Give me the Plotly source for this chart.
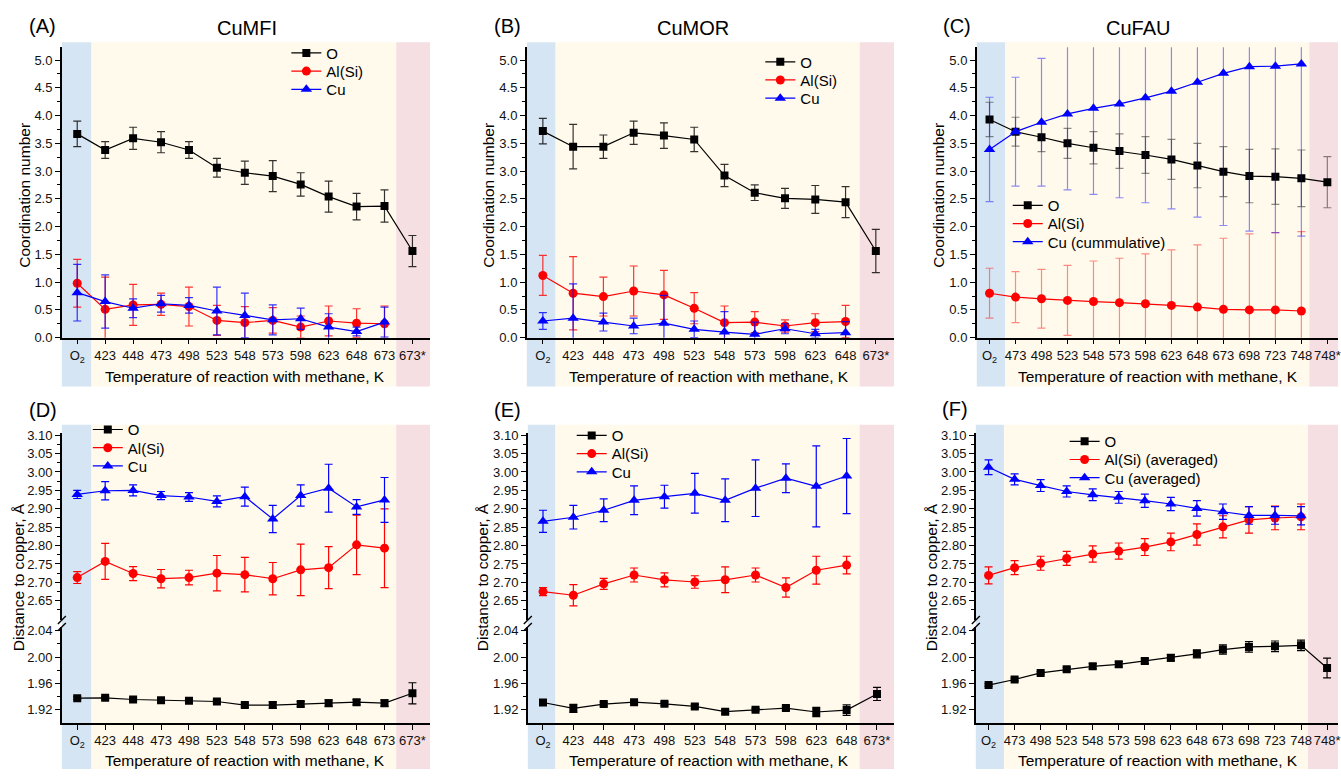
import plotly.graph_objects as go

W, H = 1341, 777

# ---------------- data ----------------
cats_mfi = ["O<sub>2</sub>", "423", "448", "473", "498", "523", "548", "573", "598", "623", "648", "673", "673*"]
cats_mor = ["O<sub>2</sub>", "423", "448", "473", "498", "523", "548", "573", "598", "623", "648", "673*"]
cats_fau = ["O<sub>2</sub>", "473", "498", "523", "548", "573", "598", "623", "648", "673", "698", "723", "748", "748*"]

names_mfi = ["O", "Al(Si)", "Cu"]
names_mor = ["O", "Al(Si)", "Cu"]
names_fau_cn = ["O", "Al(Si)", "Cu (cummulative)"]
names_fau_d = ["O", "Al(Si) (averaged)", "Cu (averaged)"]

# (A) CuMFI coordination numbers
cn_mfi_O = [3.67, 3.38, 3.59, 3.52, 3.38, 3.06, 2.97, 2.91, 2.76, 2.54, 2.36, 2.37, 1.56]
cn_mfi_O_err = [0.23, 0.15, 0.20, 0.19, 0.15, 0.17, 0.21, 0.28, 0.21, 0.28, 0.24, 0.29, 0.28]
cn_mfi_Al = [0.98, 0.51, 0.59, 0.60, 0.56, 0.31, 0.27, 0.31, 0.19, 0.30, 0.26, 0.25, None]
cn_mfi_Al_err = [0.43, 0.58, 0.37, 0.20, 0.35, 0.27, 0.29, 0.23, 0.20, 0.27, 0.26, 0.32, None]
cn_mfi_Cu = [0.81, 0.65, 0.53, 0.61, 0.58, 0.48, 0.40, 0.32, 0.34, 0.19, 0.11, 0.28, None]
cn_mfi_Cu_err = [0.51, 0.48, 0.17, 0.15, 0.14, 0.43, 0.40, 0.27, 0.19, 0.24, 0.08, 0.27, None]

# (B) CuMOR coordination numbers
cn_mor_O = [3.72, 3.44, 3.44, 3.69, 3.64, 3.57, 2.92, 2.61, 2.51, 2.49, 2.44, 1.56]
cn_mor_O_err = [0.23, 0.40, 0.21, 0.21, 0.23, 0.22, 0.20, 0.14, 0.18, 0.25, 0.28, 0.39]
cn_mor_Al = [1.12, 0.80, 0.74, 0.84, 0.77, 0.53, 0.27, 0.28, 0.21, 0.27, 0.29, None]
cn_mor_Al_err = [0.36, 0.66, 0.35, 0.45, 0.44, 0.28, 0.30, 0.19, 0.11, 0.16, 0.29, None]
cn_mor_Cu = [0.30, 0.35, 0.28, 0.21, 0.26, 0.15, 0.10, 0.06, 0.16, 0.07, 0.09, None]
cn_mor_Cu_err = [0.15, 0.62, 0.16, 0.14, 0.50, 0.15, 0.37, 0.22, 0.09, 0.08, 0.20, None]

# (C) CuFAU coordination numbers
cn_fau_O = [3.93, 3.71, 3.61, 3.50, 3.42, 3.36, 3.29, 3.21, 3.10, 2.99, 2.91, 2.90, 2.87, 2.80]
cn_fau_O_err = [0.31, 0.26, 0.26, 0.27, 0.29, 0.31, 0.33, 0.36, 0.40, 0.45, 0.48, 0.50, 0.51, 0.46]
cn_fau_Al = [0.80, 0.73, 0.70, 0.67, 0.65, 0.63, 0.61, 0.58, 0.55, 0.51, 0.50, 0.50, 0.48, None]
cn_fau_Al_err = [0.45, 0.46, 0.53, 0.63, 0.73, 0.80, 0.90, 1.00, 1.12, 1.28, 1.37, 1.39, 1.43, None]
cn_fau_Cu = [3.39, 3.71, 3.88, 4.03, 4.13, 4.21, 4.32, 4.44, 4.60, 4.76, 4.88, 4.89, 4.93, None]
cn_fau_Cu_err = [0.94, 0.98, 1.15, 1.37, 1.55, 1.69, 1.89, 2.12, 2.43, 2.74, 2.96, 3.00, 3.10, None]

# (D) CuMFI distances to copper, Å
d_mfi_O = [1.9375, 1.938, 1.9355, 1.9345, 1.9335, 1.9325, 1.927, 1.927, 1.9285, 1.930, 1.9315, 1.930, 1.945]
d_mfi_O_err = [0.002, 0.002, 0.002, 0.002, 0.002, 0.002, 0.003, 0.005, 0.004, 0.005, 0.004, 0.005, 0.016]
d_mfi_Al = [2.713, 2.757, 2.724, 2.710, 2.713, 2.725, 2.721, 2.710, 2.734, 2.740, 2.802, 2.793, None]
d_mfi_Al_err = [0.016, 0.049, 0.019, 0.025, 0.020, 0.048, 0.047, 0.044, 0.070, 0.057, 0.081, 0.107, None]
d_mfi_Cu = [2.939, 2.949, 2.950, 2.936, 2.932, 2.920, 2.933, 2.872, 2.936, 2.956, 2.905, 2.924, None]
d_mfi_Cu_err = [0.011, 0.025, 0.015, 0.011, 0.012, 0.015, 0.026, 0.037, 0.029, 0.065, 0.020, 0.061, None]

# (E) CuMOR distances to copper, Å
d_mor_O = [1.931, 1.922, 1.9285, 1.9315, 1.929, 1.925, 1.917, 1.920, 1.9225, 1.9165, 1.9195, 1.944]
d_mor_O_err = [0.002, 0.006, 0.003, 0.002, 0.003, 0.003, 0.003, 0.002, 0.003, 0.007, 0.008, 0.010]
d_mor_Al = [2.675, 2.665, 2.696, 2.720, 2.707, 2.701, 2.707, 2.720, 2.686, 2.733, 2.747, None]
d_mor_Al_err = [0.011, 0.029, 0.015, 0.019, 0.019, 0.017, 0.035, 0.019, 0.026, 0.038, 0.024, None]
d_mor_Cu = [2.866, 2.877, 2.896, 2.923, 2.933, 2.942, 2.923, 2.956, 2.983, 2.961, 2.989, None]
d_mor_Cu_err = [0.030, 0.032, 0.031, 0.039, 0.031, 0.054, 0.058, 0.077, 0.039, 0.110, 0.102, None]

# (F) CuFAU distances to copper, Å
d_fau_O = [1.9575, 1.966, 1.976, 1.9815, 1.986, 1.989, 1.994, 1.999, 2.005, 2.0115, 2.0155, 2.0165, 2.018, 1.9835]
d_fau_O_err = [0.002, 0.002, 0.002, 0.003, 0.004, 0.004, 0.004, 0.005, 0.006, 0.007, 0.008, 0.008, 0.008, 0.015]
d_fau_Al = [2.719, 2.740, 2.752, 2.765, 2.777, 2.785, 2.796, 2.810, 2.830, 2.851, 2.870, 2.875, 2.878, None]
d_fau_Al_err = [0.023, 0.019, 0.019, 0.019, 0.022, 0.022, 0.023, 0.024, 0.029, 0.030, 0.036, 0.032, 0.035, None]
d_fau_Cu = [3.013, 2.980, 2.963, 2.947, 2.938, 2.931, 2.922, 2.913, 2.901, 2.892, 2.882, 2.882, 2.881, None]
d_fau_Cu_err = [0.020, 0.015, 0.016, 0.015, 0.016, 0.016, 0.018, 0.018, 0.021, 0.021, 0.024, 0.024, 0.025, None]

cn_ticks = [0.0, 0.5, 1.0, 1.5, 2.0, 2.5, 3.0, 3.5, 4.0, 4.5, 5.0]
d_hi_ticks = [2.65, 2.70, 2.75, 2.80, 2.85, 2.90, 2.95, 3.00, 3.05, 3.10]
d_lo_ticks = [1.92, 1.96, 2.00, 2.04]

panel_letters = ["(A)", "(B)", "(C)", "(D)", "(E)", "(F)"]
panel_titles = ["CuMFI", "CuMOR", "CuFAU"]
x_title = "Temperature of reaction with methane, K"
cn_title = "Coordination number"
d_title = "Distance to copper, Å"

# ---------------- styling / geometry ----------------
FONT = "Liberation Sans, Arial, sans-serif"
TICKFONT = "Liberation Sans Narrow, Arial Narrow, Liberation Sans, sans-serif"
BLACK, RED, BLUE = "#000000", "#ff0000", "#0000ff"
SH_BLUE, SH_CREAM, SH_PINK = "#d6e5f3", "#fffaec", "#f6dfe2"


def fx(p):
    return p / W


def fy(p):
    return 1 - p / H


fig = go.Figure()

# geometry per column: x domain px, x range, blue end, cream end
cols = [
    dict(dom=(62, 431), rng=(-0.55, 12.63), b=0.51, c=11.42),
    dict(dom=(528, 896), rng=(-0.53, 11.6), b=0.42, c=10.47),
    dict(dom=(979, 1341), rng=(-0.49, 13.41), b=0.60, c=12.31),
    dict(dom=(62, 431), rng=(-0.55, 12.63), b=0.51, c=11.42),
    dict(dom=(529, 896), rng=(-0.5, 11.56), b=0.41, c=10.43),
    dict(dom=(978, 1341), rng=(-0.49, 13.42), b=0.59, c=12.27),
]

panels = [
    dict(cats=cats_mfi, names=names_mfi, O=(cn_mfi_O, cn_mfi_O_err), Al=(cn_mfi_Al, cn_mfi_Al_err), Cu=(cn_mfi_Cu, cn_mfi_Cu_err)),
    dict(cats=cats_mor, names=names_mor, O=(cn_mor_O, cn_mor_O_err), Al=(cn_mor_Al, cn_mor_Al_err), Cu=(cn_mor_Cu, cn_mor_Cu_err)),
    dict(cats=cats_fau, names=names_fau_cn, O=(cn_fau_O, cn_fau_O_err), Al=(cn_fau_Al, cn_fau_Al_err), Cu=(cn_fau_Cu, cn_fau_Cu_err)),
    dict(cats=cats_mfi, names=names_mfi, O=(d_mfi_O, d_mfi_O_err), Al=(d_mfi_Al, d_mfi_Al_err), Cu=(d_mfi_Cu, d_mfi_Cu_err)),
    dict(cats=cats_mor, names=names_mor, O=(d_mor_O, d_mor_O_err), Al=(d_mor_Al, d_mor_Al_err), Cu=(d_mor_Cu, d_mor_Cu_err)),
    dict(cats=cats_fau, names=names_fau_d, O=(d_fau_O, d_fau_O_err), Al=(d_fau_Al, d_fau_Al_err), Cu=(d_fau_Cu, d_fau_Cu_err)),
]

err_alpha = [0.8, 0.8, 0.45, 1.0, 1.0, 1.0]
# legend block: left edge px, centre of first row px
legend_pos = [(287, 49), (762, 58), (1010, 204), (88, 432), (573, 438), (1067, 444)]
LEG_STEP = 18.5


def rgba(hexc, a):
    h = hexc.lstrip("#")
    r, g, b = int(h[0:2], 16), int(h[2:4], 16), int(h[4:6], 16)
    return f"rgba({r},{g},{b},{a})"


axis_common = dict(showline=True, linecolor="black", linewidth=1.6, ticks="outside",
                   ticklen=5, tickwidth=1.3, tickcolor="black", showgrid=False, zeroline=False,
                   tickfont=dict(family=TICKFONT, size=13, color="#111"))

layout = {}
shapes = []
annotations = []
leg_count = 0

for i, (col, pan) in enumerate(zip(cols, panels)):
    n = i + 1
    xa = "x" if n == 1 else f"x{n}"
    xkey = "xaxis" if n == 1 else f"xaxis{n}"
    top = i < 3
    if top:
        ya_main = "y" if n == 1 else f"y{n}"
        ya_O = ya_main
        ya_lo = None
    else:
        ya_main = f"y{n}"
        ya_lo = f"y{n + 3}"
        ya_O = ya_lo

    # x axis
    layout[xkey] = dict(axis_common, domain=[fx(col["dom"][0]), fx(col["dom"][1])],
                        type="category", categoryorder="array", categoryarray=pan["cats"],
                        range=list(col["rng"]), anchor=(ya_main if top else ya_lo),
                        tickangle=0, tickmode="array", tickvals=pan["cats"], ticktext=pan["cats"])
    # y axes
    if top:
        ykey = "yaxis" if n == 1 else f"yaxis{n}"
        layout[ykey] = dict(axis_common, domain=[fy(338.3), fy(43)], range=[0, 5.23], anchor=xa,
                            tickmode="array", tickvals=cn_ticks, ticktext=[f"{v:.1f}" for v in cn_ticks],
                            minor=dict(ticks="outside", ticklen=3, tickwidth=1.2, tickcolor="black",
                                       tickmode="linear", tick0=0.25, dtick=0.5, showgrid=False))
    else:
        layout[f"yaxis{n}"] = dict(axis_common, domain=[fy(625), fy(435)], range=[2.599, 3.1067], anchor=xa,
                                   tickmode="array", tickvals=d_hi_ticks, ticktext=[f"{v:.2f}" for v in d_hi_ticks],
                                   minor=dict(ticks="outside", ticklen=3, tickwidth=1.2, tickcolor="black",
                                              tickmode="linear", tick0=2.625, dtick=0.05, showgrid=False))
        layout[f"yaxis{n + 3}"] = dict(axis_common, domain=[fy(730), fy(633)], range=[1.9001, 2.0452], anchor=xa,
                                       tickmode="array", tickvals=d_lo_ticks, ticktext=[f"{v:.2f}" for v in d_lo_ticks],
                                       minor=dict(ticks="outside", ticklen=3, tickwidth=1.2, tickcolor="black",
                                                  tickmode="linear", tick0=1.90, dtick=0.04, showgrid=False))
        # axis break marks
        ax_x = col["dom"][0]
        for yb in (629.5, 636.5):
            shapes.append(dict(type="line", xref="paper", yref="paper",
                               x0=fx(ax_x - 4), y0=fy(yb), x1=fx(ax_x + 4), y1=fy(yb - 8),
                               line=dict(color="black", width=1.4), layer="above"))

    # background shading
    y_top_px, y_bot_px = (38, 388) if top else (427, 777)
    for (a, b, c) in [(col["rng"][0] - 1, col["b"], SH_BLUE), (col["b"], col["c"], SH_CREAM),
                      (col["c"], col["rng"][1] + 1, SH_PINK)]:
        shapes.append(dict(type="rect", xref=xa, yref="paper", x0=a, x1=b, y0=fy(y_bot_px), y1=fy(y_top_px),
                           fillcolor=c, line=dict(width=0), layer="below"))

    # traces (each legend row is its own legend block so the row spacing matches)
    ea = err_alpha[i]
    lx, ly = legend_pos[i]
    specs = [("O", BLACK, "square", 8, ya_O), ("Al", RED, "circle", 9, ya_main), ("Cu", BLUE, "triangle-up", 10, ya_main)]
    for k, (key, color, sym, ms, ya) in enumerate(specs):
        vals, errs = pan[key]
        leg_count += 1
        leg = "legend" if leg_count == 1 else f"legend{leg_count}"
        fig.add_trace(go.Scatter(
            x=pan["cats"], y=vals, name=pan["names"][k], mode="lines+markers",
            line=dict(color=color, width=1.2),
            marker=dict(symbol=sym, size=ms, color=color),
            error_y=dict(type="data", array=errs, visible=True, color=rgba(color, ea), thickness=1.2, width=4),
            xaxis=xa, yaxis=ya, legend=leg, connectgaps=False))
        layout[leg] = dict(x=fx(lx), y=fy(ly + k * LEG_STEP), xanchor="left", yanchor="middle",
                           bgcolor="rgba(0,0,0,0)", borderwidth=0,
                           font=dict(family=FONT, size=15, color="black"), itemwidth=30)

# titles and labels (pixel positions)
letter_pos = [(43, 21), (509, 21), (959, 21), (43, 412), (509, 412), (957, 411)]
for t, (px, py) in zip(panel_letters, letter_pos):
    annotations.append(dict(text=t, x=fx(px), y=fy(py), xref="paper", yref="paper", showarrow=False,
                            xanchor="center", yanchor="middle", font=dict(family=FONT, size=20, color="black")))
title_pos = [(248, 23), (695, 23), (1141, 23)]
for t, (px, py) in zip(panel_titles, title_pos):
    annotations.append(dict(text=t, x=fx(px), y=fy(py), xref="paper", yref="paper", showarrow=False,
                            xanchor="center", yanchor="middle", font=dict(family=FONT, size=20, color="black")))
xt_pos = [(246, 378), (711, 378), (1161, 378), (246, 768), (711, 768), (1161, 768)]
for (px, py) in xt_pos:
    annotations.append(dict(text=x_title, x=fx(px), y=fy(py), xref="paper", yref="paper", showarrow=False,
                            xanchor="center", yanchor="middle", font=dict(family=FONT, size=15.5, color="black")))
yt_pos = [(25, 193, cn_title), (490, 193, cn_title), (941, 193, cn_title),
          (18, 582, d_title), (483, 582, d_title), (933, 582, d_title)]
for (px, py, t) in yt_pos:
    annotations.append(dict(text=t, x=fx(px), y=fy(py), xref="paper", yref="paper", showarrow=False,
                            textangle=-90, xanchor="center", yanchor="middle",
                            font=dict(family=FONT, size=15.5, color="black")))

fig.update_layout(width=W, height=H, autosize=False, margin=dict(l=0, r=0, t=0, b=0),
                  paper_bgcolor="white", plot_bgcolor="rgba(0,0,0,0)", showlegend=True,
                  shapes=shapes, annotations=annotations, font=dict(family=FONT, color="black"),
                  **layout)

fig.write_html("out.html", config={"displayModeBar": False},
               post_script="document.body.style.margin='0';document.body.style.padding='0';"
                           "document.body.style.overflow='hidden';")
